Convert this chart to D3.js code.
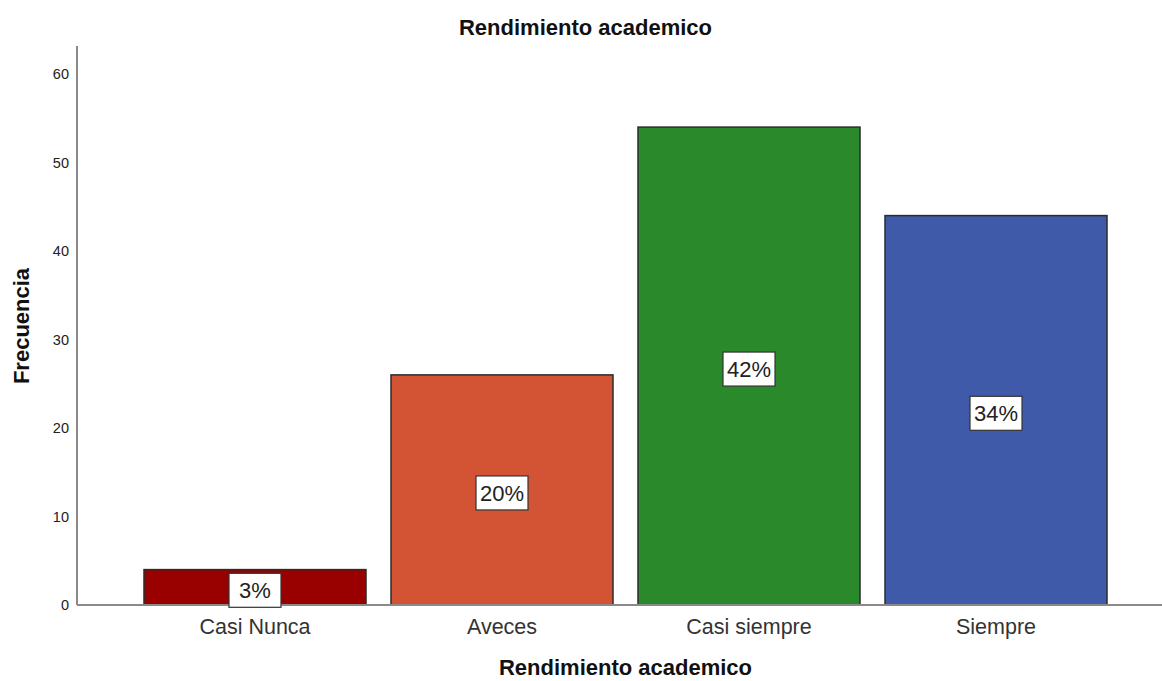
<!DOCTYPE html>
<html>
<head>
<meta charset="utf-8">
<script src="https://cdn.jsdelivr.net/npm/d3@7"></script>
<style>
  html, body { margin: 0; padding: 0; background: #fff; }
  svg { display: block; font-family: "Liberation Sans", Arial, sans-serif; }
</style>
</head>
<body>
<svg id="chart" width="1162" height="681"></svg>
<script>
const categories = ["Casi Nunca", "Aveces", "Casi siempre", "Siempre"];
const frequencies = [4, 26, 54, 44];
const percentLabels = ["3%", "20%", "42%", "34%"];
const barColors = ["#990000", "#D35434", "#2A892A", "#3E5AA8"];
const yTicks = [0, 10, 20, 30, 40, 50, 60];
const chartTitle = "Rendimiento academico";
const xTitle = "Rendimiento academico";
const yTitle = "Frecuencia";

const svg = d3.select("#chart");
const axisX = 77, plotBottom = 605, plotTop = 46, plotRight = 1162;

const y = d3.scaleLinear().domain([0, 60]).range([plotBottom, 74]);
const x = d3.scaleBand().domain(categories).range([131.5, 1119.5])
  .paddingInner(25 / 247).paddingOuter(12.5 / 247);

// Bars
svg.append("g").selectAll("rect").data(categories).join("rect")
  .attr("x", d => x(d))
  .attr("y", (d, i) => y(frequencies[i]))
  .attr("width", x.bandwidth())
  .attr("height", (d, i) => y(0) - y(frequencies[i]))
  .attr("fill", (d, i) => barColors[i])
  .attr("stroke", "#2b2b2b")
  .attr("stroke-width", 1.5);

// Axes lines
svg.append("line").attr("x1", axisX).attr("x2", axisX).attr("y1", plotTop).attr("y2", plotBottom)
  .attr("stroke", "#8a8a8a").attr("stroke-width", 2);
svg.append("line").attr("x1", axisX).attr("x2", plotRight).attr("y1", plotBottom).attr("y2", plotBottom)
  .attr("stroke", "#8a8a8a").attr("stroke-width", 2);

// Y ticks labels
const yAxis = d3.axisLeft(y).tickValues(yTicks).tickSize(0).tickPadding(8);
const gy = svg.append("g").attr("transform", `translate(${axisX},0)`).call(yAxis);
gy.select(".domain").remove();
gy.selectAll("text").attr("font-size", 14.5).attr("fill", "#222")
  .attr("font-family", "Liberation Sans, Arial, sans-serif");

// X category labels
const xAxis = d3.axisBottom(x).tickSize(0).tickPadding(14);
const gx = svg.append("g").attr("transform", `translate(0,${plotBottom})`).call(xAxis);
gx.select(".domain").remove();
gx.selectAll("text").attr("font-size", 21.5).attr("fill", "#333")
  .attr("font-family", "Liberation Sans, Arial, sans-serif");

// Percent labels
const lg = svg.append("g").selectAll("g").data(categories).join("g")
  .attr("transform", (d, i) => {
    const cx = x(d) + x.bandwidth() / 2;
    const cy = (y(frequencies[i]) + y(0)) / 2 + 3;
    return `translate(${cx},${cy})`;
  });
lg.append("rect").attr("x", -26).attr("y", -17).attr("width", 52).attr("height", 34)
  .attr("fill", "#fff").attr("stroke", "#333").attr("stroke-width", 1.2);
lg.append("text").text((d, i) => percentLabels[i])
  .attr("text-anchor", "middle").attr("dy", "0.36em")
  .attr("font-size", 22).attr("fill", "#222");

// Titles
svg.append("text").text(chartTitle).attr("x", 585.5).attr("y", 35)
  .attr("text-anchor", "middle").attr("font-size", 22).attr("font-weight", "bold").attr("fill", "#111");
svg.append("text").text(xTitle).attr("x", 625.5).attr("y", 675)
  .attr("text-anchor", "middle").attr("font-size", 22).attr("font-weight", "bold").attr("fill", "#111");
svg.append("text").text(yTitle)
  .attr("transform", "translate(29,326) rotate(-90)")
  .attr("text-anchor", "middle").attr("font-size", 22).attr("font-weight", "bold").attr("fill", "#111");
</script>
</body>
</html>
